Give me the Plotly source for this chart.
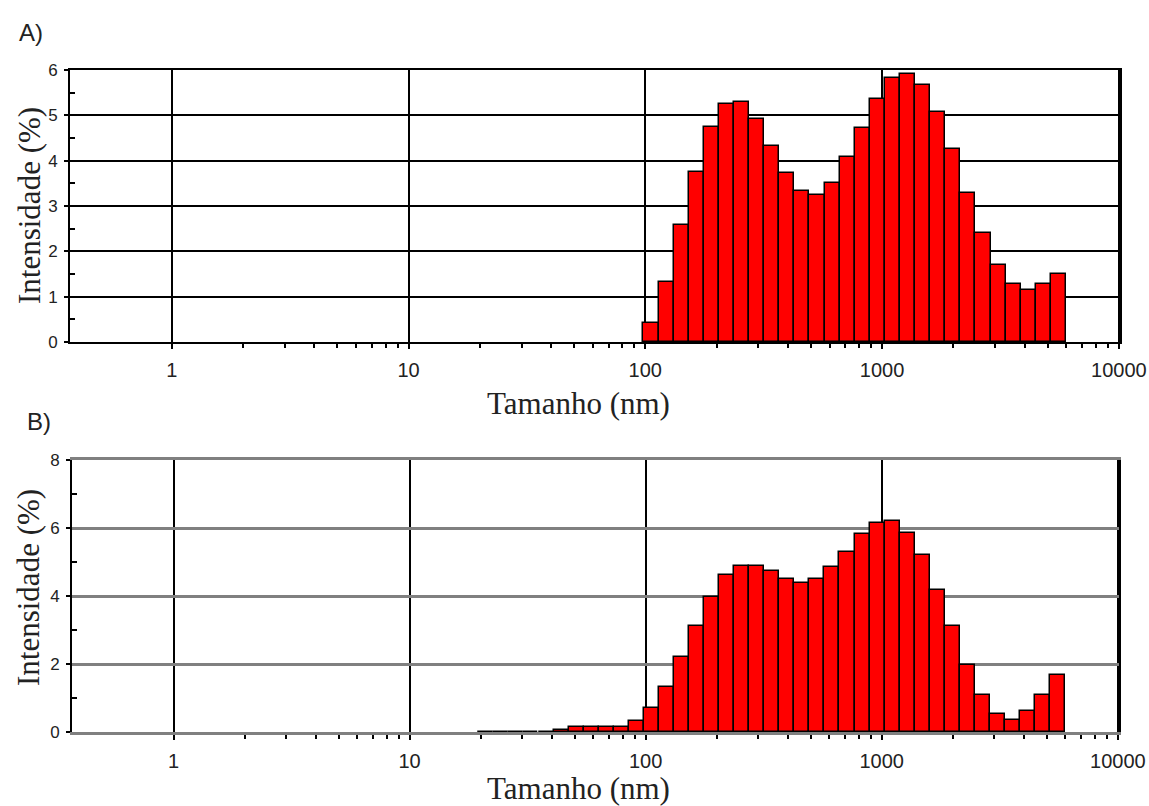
import numpy as np
import plotly.graph_objects as go

# Size classes (nm) and intensity distributions (%)
sizes_a = [105.7, 122.4, 141.8, 164.2, 190.1, 220.2, 255.0, 295.3, 342.0, 396.1,
           458.7, 531.2, 615.1, 712.4, 825.0, 955.4, 1106, 1281, 1484, 1718,
           1990, 2305, 2669, 3091, 3580, 4145, 4801, 5560]
intensity_a = [0.41, 1.33, 2.57, 3.76, 4.75, 5.26, 5.30, 4.93, 4.33, 3.72,
               3.33, 3.24, 3.51, 4.07, 4.71, 5.35, 5.83, 5.91, 5.67, 5.07,
               4.25, 3.29, 2.40, 1.70, 1.28, 1.15, 1.28, 1.49]

sizes_b = [21.04, 24.36, 28.21, 32.67, 37.84, 43.82, 50.75, 58.77, 68.06, 78.82,
           91.28, 105.7, 122.4, 141.8, 164.2, 190.1, 220.2, 255.0, 295.3, 342.0,
           396.1, 458.7, 531.2, 615.1, 712.4, 825.0, 955.4, 1106, 1281, 1484,
           1718, 1990, 2305, 2669, 3091, 3580, 4145, 4801, 5560]
intensity_b = [0.0, 0.0, 0.0, 0.0, 0.0, 0.06, 0.15, 0.15, 0.15, 0.15,
               0.31, 0.71, 1.33, 2.21, 3.13, 3.98, 4.61, 4.89, 4.89, 4.74,
               4.50, 4.37, 4.50, 4.86, 5.28, 5.81, 6.15, 6.20, 5.86, 5.22,
               4.19, 3.11, 1.96, 1.10, 0.54, 0.36, 0.61, 1.10, 1.69]

decade_vals = [1, 10, 100, 1000, 10000]
decade_labels = ["1", "10", "100", "1000", "10000"]
minor_vals = [m * d for d in [1, 10, 100, 1000] for m in range(2, 10)]

W, H = 1149, 806
XTICK_FONT = dict(family="Liberation Sans, Arial, sans-serif", size=20, color="#222")
YTICK_FONT = dict(family="Liberation Sans, Arial, sans-serif", size=17, color="#222")
TITLE_FONT = dict(family="Liberation Serif, Times New Roman, serif", size=31, color="#222")
LABEL_FONT = dict(family="Liberation Sans, Arial, sans-serif", size=24, color="#222")


def px_x(p):
    return p / W


def px_y(p):
    return 1 - p / H


fig = go.Figure()

for sizes, vals, xa, ya in [(sizes_a, intensity_a, "x", "y"),
                             (sizes_b, intensity_b, "x2", "y2")]:
    logx = np.log10(sizes)
    bin_w = float(np.median(np.diff(logx)))
    fig.add_trace(go.Bar(
        x=logx, y=vals, width=bin_w,
        marker=dict(color="#ff0000", line=dict(color="#000000", width=1.5)),
        xaxis=xa, yaxis=ya, showlegend=False, hoverinfo="skip",
    ))

x_common = dict(
    type="linear", range=[-0.43, 4.005], automargin=False,
    tickmode="array", tickvals=np.log10(decade_vals).tolist(), ticktext=decade_labels,
    ticks="outside", ticklen=5, tickwidth=1.5, tickcolor="#000",
    showgrid=True, gridcolor="#000", gridwidth=1.5,
    minor=dict(tickmode="array", tickvals=np.log10(minor_vals).tolist(),
               ticks="outside", ticklen=4, tickwidth=1.5, tickcolor="#000",
               showgrid=False),
    tickfont=XTICK_FONT, ticklabelstandoff=4,
    showline=True, mirror=True, zeroline=False, fixedrange=True,
)

y_common = dict(
    automargin=False, tickmode="linear", tick0=0,
    ticks="outside", ticklen=4, tickwidth=1.5, tickcolor="#000",
    showline=True, mirror=True, linecolor="#000", linewidth=2,
    zeroline=False, tickfont=YTICK_FONT, ticklabelstandoff=3, fixedrange=True,
)

fig.update_layout(
    template="none",
    width=W, height=H,
    margin=dict(l=0, r=0, t=0, b=0, autoexpand=False),
    paper_bgcolor="#ffffff", plot_bgcolor="#ffffff",
    bargap=0,
    xaxis=dict(x_common, domain=[px_x(70), px_x(1120)], anchor="y",
               linecolor="#000", linewidth=2),
    yaxis=dict(y_common, domain=[px_y(342), px_y(70)], anchor="x", range=[0, 6],
               dtick=1,
               minor=dict(tickmode="linear", tick0=0.5, dtick=1, ticks="inside",
                          ticklen=5, tickwidth=1.5, tickcolor="#000", showgrid=False),
               showgrid=True, gridcolor="#000", gridwidth=1.5),
    xaxis2=dict(x_common, domain=[px_x(72), px_x(1119)], anchor="y2",
                linecolor="#808080", linewidth=3),
    yaxis2=dict(y_common, domain=[px_y(732), px_y(460)], anchor="x2", range=[0, 8],
                dtick=2,
                minor=dict(tickmode="linear", tick0=1, dtick=2, ticks="inside",
                           ticklen=5, tickwidth=1.5, tickcolor="#000", showgrid=False),
                showgrid=True, gridcolor="#808080", gridwidth=3),
)

annotations = [
    dict(text="A)", x=px_x(31), y=px_y(32), font=LABEL_FONT),
    dict(text="B)", x=px_x(39), y=px_y(421), font=LABEL_FONT),
    dict(text="Tamanho (nm)", x=px_x(578), y=px_y(403), font=TITLE_FONT),
    dict(text="Tamanho (nm)", x=px_x(578), y=px_y(788), font=TITLE_FONT),
    dict(text="Intensidade (%)", x=px_x(29), y=px_y(206), font=TITLE_FONT, textangle=-90),
    dict(text="Intensidade (%)", x=px_x(28), y=px_y(588), font=TITLE_FONT, textangle=-90),
]
for a in annotations:
    fig.add_annotation(xref="paper", yref="paper", showarrow=False,
                       xanchor="center", yanchor="middle", **a)

fig.write_html("out.html")
